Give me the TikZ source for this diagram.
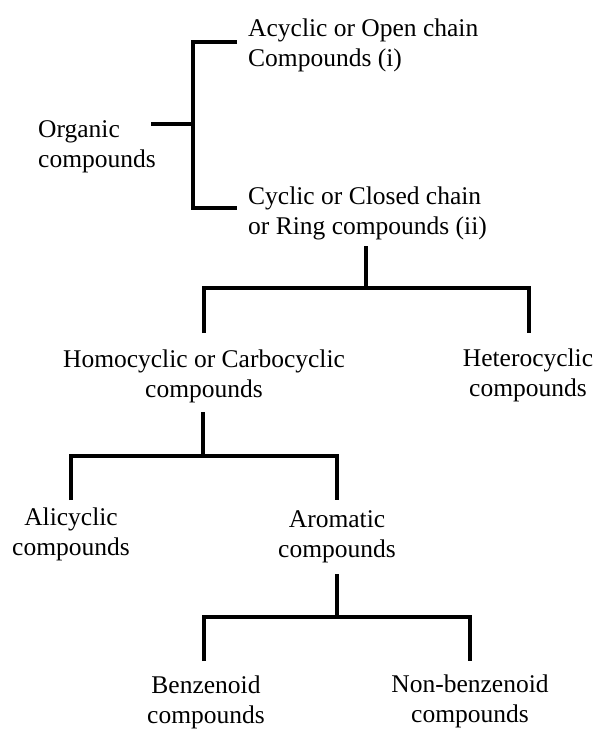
\documentclass[tikz,border=0pt]{standalone}
\usepackage{fontspec}
\setmainfont{Liberation Serif}
\begin{document}
\begin{tikzpicture}[x=1pt,y=-1pt,
  conn/.style={line width=3.2pt, line join=miter},
  lbl/.style={font=\fontsize{25.5}{30}\selectfont, inner sep=0pt, align=center, anchor=base},
  lbll/.style={lbl, align=left, anchor=base west}]
\useasboundingbox (0,0) rectangle (596,729);
% labels (anchored at the baseline of their last line)
\node[lbll] (org) at (38,167) {Organic\\compounds};
\node[lbll] (acy) at (248,66) {Acyclic or Open chain\\Compounds (i)};
\node[lbll] (cyc) at (248,234) {Cyclic or Closed chain\\or Ring compounds (ii)};
\node[lbl] (homo) at (204,397) {Homocyclic or Carbocyclic\\compounds};
\node[lbl] (het) at (528,396) {Heterocyclic\\compounds};
\node[lbl] (ali) at (71,555) {Alicyclic\\compounds};
\node[lbl] (aro) at (337,557) {Aromatic\\compounds};
\node[lbl] (ben) at (206,723) {Benzenoid\\compounds};
\node[lbl] (nonb) at (470,722) {Non-benzenoid\\compounds};
% junction coordinates
\coordinate (orgS) at (151,124);
\coordinate (orgJ) at (193,124);
\coordinate (acyT) at (237,42);
\coordinate (acyJ) at (193,42);
\coordinate (cycT) at (237,208);
\coordinate (cycJ) at (193,208);
\coordinate (cycS) at (366,246);
\coordinate (cycJ2) at (366,288);
\coordinate (homoJ) at (204,288);
\coordinate (homoT) at (204,333);
\coordinate (hetJ) at (529,288);
\coordinate (hetT) at (529,333);
\coordinate (homoS) at (203,412);
\coordinate (homoJ2) at (203,456);
\coordinate (aliJ) at (71,456);
\coordinate (aliT) at (71,500);
\coordinate (aroJ) at (337,456);
\coordinate (aroT) at (337,500);
\coordinate (aroS) at (337,574);
\coordinate (aroJ2) at (337,617);
\coordinate (benJ) at (204,617);
\coordinate (benT) at (204,661);
\coordinate (nonbJ) at (470,617);
\coordinate (nonbT) at (470,661);
% connectors
\draw[conn] (orgS) -- (orgJ);
\draw[conn] (acyT) -- (acyJ) -- (cycJ) -- (cycT);
\draw[conn] (cycS) -- (cycJ2);
\draw[conn] (homoT) -- (homoJ) -- (hetJ) -- (hetT);
\draw[conn] (homoS) -- (homoJ2);
\draw[conn] (aliT) -- (aliJ) -- (aroJ) -- (aroT);
\draw[conn] (aroS) -- (aroJ2);
\draw[conn] (benT) -- (benJ) -- (nonbJ) -- (nonbT);
\end{tikzpicture}
\end{document}
